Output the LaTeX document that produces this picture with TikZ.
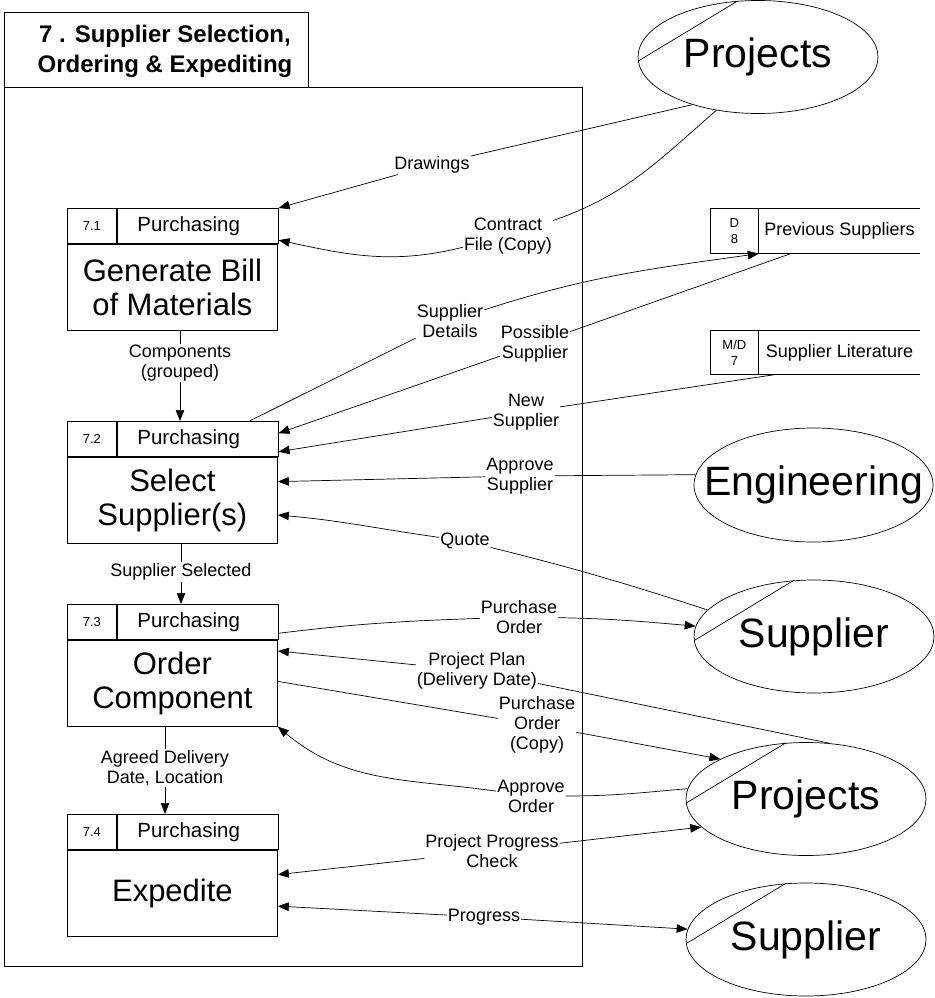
\documentclass[tikz,border=0pt]{standalone}
\usepackage{fontspec}
\setmainfont{Liberation Sans}
\usepackage{xcolor}
\definecolor{dfd-black}{HTML}{000000}
\definecolor{dfd-white}{HTML}{FFFFFF}
\usepackage{tikz}
\usetikzlibrary{positioning, shapes.geometric, arrows.meta}

\newcommand{\roletext}{\hspace*{-18pt}Purchasing}

\tikzset{
  frame/.style={draw=dfd-black, line width=0.8pt},
  cell/.style={draw=dfd-black, line width=0.8pt, inner sep=0pt, minimum height=35pt, align=center},
  idcell/.style={cell, minimum width=49pt, font=\fontsize{13}{16}\selectfont},
  rolecell/.style={cell, minimum width=161pt, font=\fontsize{20.5}{22}\selectfont},
  bodycell/.style={cell, minimum width=210pt, minimum height=86pt, font=\fontsize{31}{34}\selectfont},
  storeid/.style={cell, minimum width=48pt, minimum height=45pt, font=\fontsize{13}{16}\selectfont},
  storename/.style={inner sep=0pt, minimum width=161pt, minimum height=45pt, font=\fontsize{18}{20}\selectfont},
  entity/.style={ellipse, draw=dfd-black, line width=0.7pt, minimum width=240pt, minimum height=113pt, inner sep=0pt, font=\fontsize{41}{44}\selectfont},
  flowlabel/.style={inner sep=1pt, align=center, font=\fontsize{18}{20}\selectfont},
  flow/.style={draw=dfd-black, line width=0.7pt, -{Triangle[length=11pt,width=8.5pt]}},
}

\begin{document}
\begin{tikzpicture}[x=1pt, y=1pt]

    \useasboundingbox (0,0) rectangle (934,-998);

    % Frame
    \draw[frame] (4,-12) rectangle (308,-87);
    \draw[frame] (4,-87) rectangle (582,-966);
    \node[align=center, font=\bfseries\fontsize{24}{30}\selectfont] (title) at (165,-51) {7 . Supplier Selection,\\Ordering \& Expediting};

    % Processes
    \node[idcell, anchor=north west] (p71id) at (67,-208) {7.1};
    \node[rolecell, right=0pt of p71id] (p71role) {\roletext};
    \node[bodycell, anchor=north west] (p71) at (p71id.south west) {Generate Bill\\of Materials};

    \node[idcell, anchor=north west] (p72id) at (67,-421) {7.2};
    \node[rolecell, right=0pt of p72id] (p72role) {\roletext};
    \node[bodycell, anchor=north west] (p72) at (p72id.south west) {Select\\Supplier(s)};

    \node[idcell, anchor=north west] (p73id) at (67,-604) {7.3};
    \node[rolecell, right=0pt of p73id] (p73role) {\roletext};
    \node[bodycell, anchor=north west] (p73) at (p73id.south west) {Order\\Component};

    \node[idcell, anchor=north west] (p74id) at (67,-814) {7.4};
    \node[rolecell, right=0pt of p74id] (p74role) {\roletext};
    \node[bodycell, anchor=north west] (p74) at (p74id.south west) {Expedite};

    % Data stores
    \node[storeid, anchor=north west] (d8id) at (710,-208) {D\\8};
    \node[storename, right=0pt of d8id] (d8) {Previous Suppliers};
    \draw[frame] (d8.north west) -- (d8.north east) (d8.south west) -- (d8.south east);

    \node[storeid, anchor=north west, minimum height=44pt] (d7id) at (710,-330) {M/D\\7};
    \node[storename, right=0pt of d7id, minimum height=44pt] (d7) {Supplier Literature};
    \draw[frame] (d7.north west) -- (d7.north east) (d7.south west) -- (d7.south east);

    % External entities
    \node[entity] (projA) at (758,-57) {\makebox[0pt]{Projects}};
    \node[entity, minimum width=239pt, minimum height=114pt] (eng) at (813.5,-485) {\makebox[0pt]{Engineering}};
    \node[entity] (supA) at (814,-636.5) {\makebox[0pt]{Supplier}};
    \node[entity] (projB) at (806,-799) {\makebox[0pt]{Projects}};
    \node[entity] (supB) at (806,-939.5) {\makebox[0pt]{Supplier}};
    \draw[frame, line width=0.7pt] (projA.110) -- (projA.182);
    \draw[frame, line width=0.7pt] (supA.110) -- (supA.182);
    \draw[frame, line width=0.7pt] (projB.110) -- (projB.182);
    \draw[frame, line width=0.7pt] (supB.110) -- (supB.182);

    % Flow labels
    \node[flowlabel] (drawings) at (432,-165) {Drawings};
    \node[flowlabel] (contract) at (508,-236) {Contract\\File (Copy)};
    \node[flowlabel] (details) at (450,-321) {Supplier\\Details};
    \node[flowlabel] (possible) at (535,-344) {Possible\\Supplier};
    \node[flowlabel] (newsup) at (526,-412) {New\\Supplier};
    \node[flowlabel] (approvesup) at (520,-476) {Approve\\Supplier};
    \node[flowlabel] (quote) at (465,-541) {Quote};
    \node[flowlabel] (order) at (519,-617) {Purchase\\Order};
    \node[flowlabel] (plan) at (477,-671) {Project Plan\\(Delivery Date)};
    \node[flowlabel] (ordercopy) at (537,-725) {Purchase\\Order\\(Copy)};
    \node[flowlabel] (approveord) at (531,-796) {Approve\\Order};
    \node[flowlabel] (check) at (492,-851) {Project Progress\\Check};
    \node[flowlabel] (progress) at (484,-917) {Progress};
    \node[flowlabel] (grouped) at (180,-363) {Components\\(grouped)};
    \node[flowlabel] (selected) at (181,-572) {Supplier Selected};
    \node[flowlabel] (agreed) at (165,-768) {Agreed Delivery\\Date, Location};

    % Flows between processes
    \draw[flow] (p71.south -| grouped) -- (grouped) -- (p72role.north -| grouped);
    \draw[flow] (p72.south -| selected) -- (selected) -- (p73role.north -| selected);
    \draw[flow] (p73.south -| agreed) -- (agreed) -- (p74role.north -| agreed);

    % Flows to and from the outside
    \draw[flow] (projA.216) -- (drawings) -- (p71role.north east);
    \draw[flow] (projA.232) to[out=221, in=19] (contract) to[out=194, in=-12] (p71role.-10);
    \draw[flow] (p72role.19) -- (details) to[out=18, in=188] (d8.south west);
    \draw[flow] (d8.205) -- (possible) -- (p72role.4);
    \draw[flow] (d7.199) -- (newsup) -- (p72role.-9);
    \draw[flow] (eng.175) -- (approvesup) -- (p72.10);
    \draw[flow] (supA.166) to[out=162, in=-14] (quote) to[out=172, in=-5] (p72.-8);
    \draw[flow] (p73role.-8) to[out=7, in=182] (order) to[out=-1, in=175] (supA.175);
    \draw[flow] (projB.67) -- (plan) -- (p73.17);
    \draw[flow] (p73.1) -- (ordercopy) -- (projB.155);
    \draw[flow] (projB.175) to[out=185, in=0] (approveord) to[out=172, in=-40] (p73.south east);

    % Two-way flows
    \draw[flow] (check) -- (p74.10);
    \draw[flow] (check) -- (projB.195);
    \draw[flow] (progress) -- (p74.-7);
    \draw[flow] (progress) -- (supB.175);

\end{tikzpicture}
\end{document}
